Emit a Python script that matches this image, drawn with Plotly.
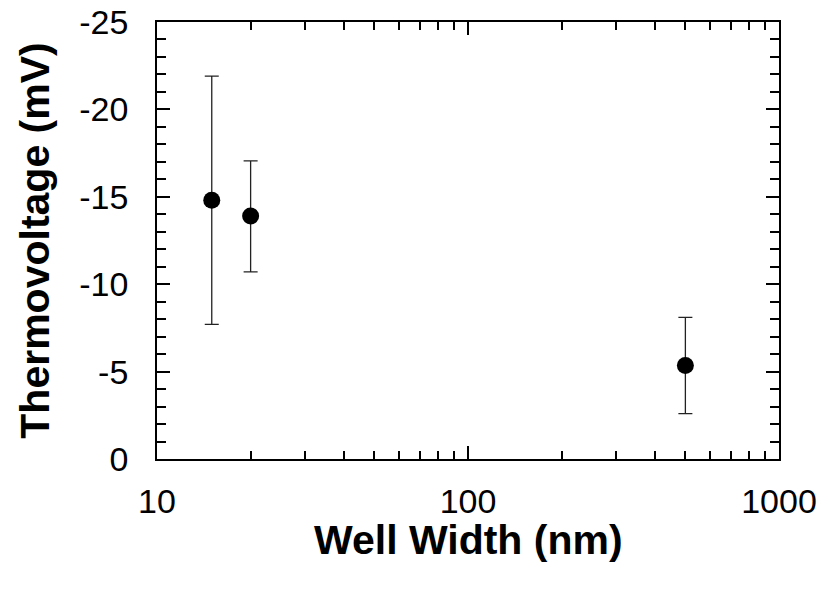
import plotly.graph_objects as go

# Data
well_width_nm = [15, 20, 500]
thermovoltage_mV = [-14.8, -13.9, -5.35]
err_upper_bound = [-21.9, -17.05, -8.1]   # more negative end (drawn at top)
err_lower_bound = [-7.7, -10.7, -2.6]     # less negative end (drawn at bottom)

x_tick_vals = [10, 100, 1000]
x_tick_text = ["10", "100", "1000"]
x_minor_vals = [20, 30, 40, 50, 60, 70, 80, 90, 200, 300, 400, 500, 600, 700, 800, 900]
y_tick_vals = [0, -5, -10, -15, -20, -25]

err_minus = [y - u for y, u in zip(thermovoltage_mV, err_upper_bound)]
err_plus = [l - y for y, l in zip(thermovoltage_mV, err_lower_bound)]

fig = go.Figure()
fig.add_trace(go.Scatter(
    x=well_width_nm, y=thermovoltage_mV, mode="markers",
    marker=dict(color="black", size=17),
    error_y=dict(type="data", symmetric=False, array=err_plus, arrayminus=err_minus,
                 color="#222", thickness=1.3, width=7),
    showlegend=False,
))

font_family = "Liberation Sans, Arial, sans-serif"
fig.update_layout(
    width=836, height=589,
    margin=dict(l=149, r=65, t=14, b=138),
    paper_bgcolor="white", plot_bgcolor="white",
    font=dict(family=font_family, color="black"),
    annotations=[dict(
        text="<b>Well Width (nm)</b>", xref="paper", yref="paper",
        x=0.5, y=-0.186, xanchor="center", yanchor="middle", showarrow=False,
        font=dict(size=41, family=font_family, color="black"),
    )],
)
fig.update_xaxes(
    type="log", range=[1, 3], automargin=False,
    tickmode="array", tickvals=x_tick_vals, ticktext=x_tick_text,
    ticks="inside", ticklen=13, tickwidth=1.5, tickcolor="black",
    minor=dict(tickmode="array", tickvals=x_minor_vals, ticks="inside",
               ticklen=8, tickwidth=1.5, tickcolor="black", showgrid=False),
    showline=True, linecolor="black", linewidth=1.8, mirror="ticks",
    showgrid=False, zeroline=False,
    tickfont=dict(size=34, family=font_family),
    ticklabelstandoff=11, ticklabeloverflow="allow",
)
fig.update_yaxes(
    range=[0, -25], automargin=False,
    tickmode="array", tickvals=y_tick_vals, ticktext=[str(v) for v in y_tick_vals],
    ticks="inside", ticklen=13, tickwidth=1.5, tickcolor="black",
    minor=dict(dtick=1, ticks="inside", ticklen=9, tickwidth=1.5, tickcolor="black", showgrid=False),
    showline=True, linecolor="black", linewidth=1.8, mirror="ticks",
    showgrid=False, zeroline=False,
    tickfont=dict(size=34, family=font_family),
    ticklabelstandoff=20, ticklabeloverflow="allow",
    title=dict(text="<b>Thermovoltage (mV)</b>", font=dict(size=41, family=font_family), standoff=17),
)

fig.write_html("out.html")
